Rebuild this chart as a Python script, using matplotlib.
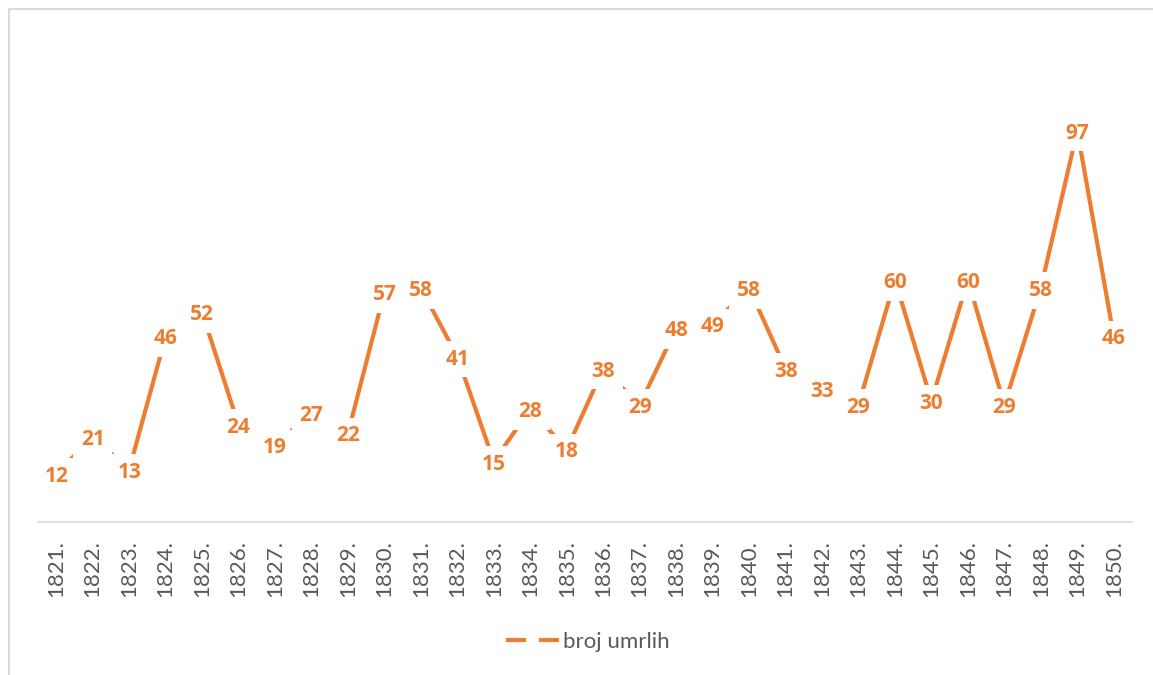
import matplotlib.pyplot as plt
from matplotlib.lines import Line2D
from matplotlib.patches import Rectangle

years = [f"{y}." for y in range(1821, 1851)]
deaths = [12, 21, 13, 46, 52, 24, 19, 27, 22, 57, 58, 41, 15, 28, 18,
          38, 29, 48, 49, 58, 38, 33, 29, 60, 30, 60, 29, 58, 97, 46]
series_name = "broj umrlih"

orange = "#ED7D31"
grey_text = "#595959"
grey_line = "#D9D9D9"


def main():
    fig = plt.figure(figsize=(11.53, 6.75), dpi=100)
    ax = fig.add_axes([38 / 1153, 1 - 522 / 675, (1132 - 38) / 1153, (522 - 38) / 675])

    x = list(range(len(years)))
    ax.plot(x, deaths, color=orange, linewidth=3, solid_capstyle="butt", zorder=2)
    for xi, v in zip(x, deaths):
        ax.text(xi, v, str(v), ha="center", va="center_baseline", color=orange,
                fontsize=15, fontweight="bold", family="Open Sans", zorder=3,
                bbox=dict(boxstyle="square,pad=0.37", facecolor="white", edgecolor="none"))

    ax.set_xlim(-0.5, len(years) - 0.5)
    ax.set_ylim(0, 120)
    ax.set_xticks(x)
    ax.set_xticklabels(years, rotation=90, family="Lato", fontsize=16, color=grey_text)
    ax.tick_params(axis="x", length=0, pad=13)
    ax.set_yticks([])
    for side in ["top", "right", "left"]:
        ax.spines[side].set_visible(False)
    ax.spines["bottom"].set_color(grey_line)
    ax.spines["bottom"].set_linewidth(1.2)

    handle = Line2D([], [], color=orange, linewidth=3, dashes=(4.8, 3.1))
    fig.legend([handle], [series_name], loc="center", bbox_to_anchor=(588 / 1153, 1 - 642 / 675),
               frameon=False, handlelength=2.43, handletextpad=0.15,
               prop={"family": "Lato", "size": 16}, labelcolor=grey_text)

    fig.add_artist(Rectangle((9 / 1153, -0.1), 1.2, 1.1 - 9 / 675,
                             transform=fig.transFigure, fill=False,
                             edgecolor=grey_line, linewidth=1.5))

    fig.savefig("out.png", dpi=100)


if __name__ == '__main__':
    main()
